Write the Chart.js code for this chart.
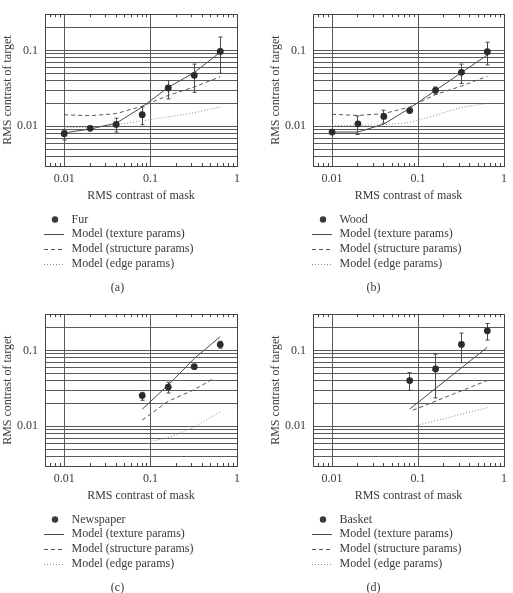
<!DOCTYPE html>
<html>
<head>
<meta charset="utf-8">
<script src="https://cdn.jsdelivr.net/npm/chart.js@4.4.1/dist/chart.umd.min.js"></script>
<style>
  html, body { margin: 0; padding: 0; background: #fff; overflow: hidden; }
  canvas.panel { position: absolute; }
</style>
</head>
<body>
<canvas id="chartA" class="panel" width="256" height="300" style="left:0;top:0"></canvas>
<canvas id="chartB" class="panel" width="257" height="300" style="left:256px;top:0"></canvas>
<canvas id="chartC" class="panel" width="256" height="293" style="left:0;top:300px"></canvas>
<canvas id="chartD" class="panel" width="257" height="293" style="left:256px;top:300px"></canvas>
<script>
// mask contrast levels used in the experiments
const maskFull = [0.01, 0.02, 0.04, 0.08, 0.16, 0.32, 0.64];
const maskHigh = [0.08, 0.16, 0.32, 0.64];

// (a) Fur
const furTarget = [0.0080, 0.0094, 0.0106, 0.0142, 0.032, 0.047, 0.097];
const furErrLo = [0.0066, 0.0090, 0.0084, 0.0105, 0.023, 0.028, 0.050];
const furErrHi = [0.0088, 0.0098, 0.0128, 0.0180, 0.040, 0.066, 0.150];
const furTexture = [0.0082, 0.0092, 0.0110, 0.0180, 0.0326, 0.051, 0.095];
const furStructure = [0.0142, 0.0138, 0.0147, 0.0184, 0.0255, 0.033, 0.045];
const furEdge = [0.0097, 0.0097, 0.0105, 0.0118, 0.0133, 0.0151, 0.018];

// (b) Wood
const woodTarget = [0.0084, 0.0108, 0.0135, 0.0161, 0.0298, 0.0514, 0.096];
const woodErrLo = [0.0078, 0.0078, 0.0110, 0.0152, 0.0265, 0.0367, 0.0645];
const woodErrHi = [0.0090, 0.0137, 0.0163, 0.0170, 0.0330, 0.0660, 0.128];
const woodTexture = [0.0084, 0.0084, 0.0107, 0.0173, 0.0298, 0.051, 0.087];
const woodStructure = [0.0144, 0.0139, 0.0147, 0.0180, 0.0262, 0.0339, 0.0456];
const woodEdge = [0.0102, 0.0103, 0.0105, 0.0112, 0.0140, 0.0178, 0.0200];

// (c) Newspaper
const newsTarget = [0.0254, 0.0329, 0.061, 0.1195];
const newsErrLo = [0.0220, 0.0275, 0.058, 0.107];
const newsErrHi = [0.0280, 0.0380, 0.064, 0.132];
const newsTexture = [0.0168, 0.035, 0.078, 0.152];
const newsStructureMask = [0.08, 0.16, 0.32, 0.52];
const newsStructure = [0.0121, 0.0214, 0.0304, 0.0417];
const newsEdgeMask = [0.1, 0.16, 0.32, 0.64];
const newsEdge = [0.0063, 0.0071, 0.0097, 0.0156];

// (d) Basket
const basketTarget = [0.040, 0.057, 0.120, 0.181];
const basketErrLo = [0.0298, 0.0237, 0.069, 0.137];
const basketErrHi = [0.051, 0.089, 0.169, 0.226];
const basketTextureMask = [0.08, 0.64];
const basketTexture = [0.0169, 0.110];
const basketStructureMask = [0.087, 0.64];
const basketStructure = [0.0163, 0.0402];
const basketEdgeMask = [0.089, 0.64];
const basketEdge = [0.0100, 0.0176];

// axes
const xTickValues = [0.01, 0.1, 1];
const xTickLabels = ['0.01', '0.1', '1'];
const xMinorTicks = [0.007, 0.008, 0.009, 0.02, 0.03, 0.04, 0.05, 0.06, 0.07, 0.08, 0.09,
                     0.2, 0.3, 0.4, 0.5, 0.6, 0.7, 0.8, 0.9];
const yGridValues = [0.003, 0.004, 0.005, 0.006, 0.007, 0.008, 0.009,
                     0.01, 0.02, 0.03, 0.04, 0.05, 0.06, 0.07, 0.08, 0.09, 0.1, 0.2, 0.3];
const yTickValues = [0.01, 0.1];
const yTickLabels = ['0.01', '0.1'];

const seriesLabels = ['Model (texture params)', 'Model (structure params)', 'Model (edge params)'];

const FONT = '"Liberation Serif", "Times New Roman", serif';
const TEXT = '#3a3a3a';
const GRID = '#5a5a5a';

function pairs(xs, ys) { return xs.map((x, i) => ({ x: x, y: ys[i] })); }

function labelFor(v, values, labels) {
    const k = values.findIndex(t => Math.abs(t - v) < t * 1e-6);
    return k < 0 ? '' : labels[k];
}

function alignPx(p) { return Math.round(p - 0.5) + 0.5; }

const errorBars = {
    id: 'errorBars',
    beforeDatasetsDraw(chart) {
        const ctx = chart.ctx, ys = chart.scales.y;
        chart.data.datasets.forEach((ds, i) => {
            if (!ds.errLo) return;
            const meta = chart.getDatasetMeta(i);
            ctx.save();
            ctx.strokeStyle = '#4a4a4a';
            ctx.lineWidth = 1;
            meta.data.forEach((pt, j) => {
                const x = alignPx(pt.x);
                const lo = ys.getPixelForValue(ds.errLo[j]);
                const hi = ys.getPixelForValue(ds.errHi[j]);
                ctx.beginPath();
                ctx.moveTo(x, lo); ctx.lineTo(x, hi);
                ctx.moveTo(x - 2, lo); ctx.lineTo(x + 2, lo);
                ctx.moveTo(x - 2, hi); ctx.lineTo(x + 2, hi);
                ctx.stroke();
            });
            ctx.restore();
        });
    }
};

const frameTicks = {
    id: 'frameTicks',
    afterDraw(chart) {
        const { ctx, chartArea: a, scales: { x } } = chart;
        ctx.save();
        ctx.strokeStyle = '#444';
        ctx.lineWidth = 1;
        ctx.strokeRect(alignPx(a.left), alignPx(a.top), Math.round(a.right - a.left), Math.round(a.bottom - a.top));
        ctx.beginPath();
        xMinorTicks.forEach(v => {
            const px = alignPx(x.getPixelForValue(v));
            ctx.moveTo(px, a.top); ctx.lineTo(px, a.top + 3);
            ctx.moveTo(px, a.bottom); ctx.lineTo(px, a.bottom - 3);
        });
        ctx.stroke();
        ctx.restore();
    }
};

const panelLegend = {
    id: 'panelLegend',
    afterDraw(chart, args, opts) {
        const { ctx, chartArea: a } = chart;
        ctx.save();
        ctx.font = '12px ' + FONT;
        ctx.fillStyle = TEXT;
        ctx.textBaseline = 'middle';
        chart.data.datasets.forEach((ds, i) => {
            const y = opts.top + i * opts.gap;
            const x0 = a.left - 1;
            if (ds.showLine === false) {
                ctx.beginPath();
                ctx.arc(x0 + 11, y, 3.2, 0, Math.PI * 2);
                ctx.fill();
            } else {
                ctx.save();
                ctx.strokeStyle = ds.borderColor;
                ctx.lineWidth = 1;
                ctx.setLineDash(ds.borderDash || []);
                ctx.beginPath();
                ctx.moveTo(x0, Math.round(y) + 0.5);
                ctx.lineTo(x0 + 20, Math.round(y) + 0.5);
                ctx.stroke();
                ctx.restore();
            }
            ctx.textAlign = 'left';
            ctx.fillText(ds.label, a.left + 26.5, y);
        });
        ctx.textAlign = 'center';
        ctx.fillText(opts.caption, opts.captionX, opts.captionY);
        ctx.restore();
    }
};

function makePanel(id, p) {
    const canvas = document.getElementById(id);
    const datasets = [
        {
            label: p.name, data: pairs(p.mask, p.target), errLo: p.errLo, errHi: p.errHi,
            showLine: false, pointRadius: 3.4, pointBackgroundColor: '#2b2b2b', pointBorderWidth: 0,
            borderColor: '#2b2b2b'
        },
        {
            label: seriesLabels[0], data: p.texture, borderColor: '#4a4a4a', borderWidth: 1,
            pointRadius: 0, tension: 0
        },
        {
            label: seriesLabels[1], data: p.structure, borderColor: '#555', borderWidth: 1,
            borderDash: [4, 3], pointRadius: 0, tension: 0
        },
        {
            label: seriesLabels[2], data: p.edge, borderColor: '#8a8a8a', borderWidth: 1,
            borderDash: [1, 2], pointRadius: 0, tension: 0
        }
    ];
    return new Chart(canvas.getContext('2d'), {
        type: 'line',
        data: { datasets: datasets },
        options: {
            responsive: false,
            animation: false,
            layout: { padding: { left: p.padLeft, right: p.padRight, top: 12, bottom: canvas.height - 166 - 40 } },
            plugins: {
                legend: { display: false },
                tooltip: { enabled: false },
                panelLegend: { top: 219.5, gap: 14.8, caption: p.caption, captionX: 117.5, captionY: 287.5 }
            },
            scales: {
                x: {
                    type: 'logarithmic', min: 0.006, max: 1,
                    afterBuildTicks: s => { s.ticks = xTickValues.map(v => ({ value: v })); },
                    afterFit: s => { s.height = 40; },
                    ticks: {
                        autoSkip: false, maxRotation: 0, padding: 6, color: TEXT,
                        font: { family: FONT, size: 12 },
                        callback: v => labelFor(v, xTickValues, xTickLabels)
                    },
                    grid: { color: GRID, lineWidth: 1, drawTicks: false },
                    border: { color: '#444' },
                    title: {
                        display: true, text: 'RMS contrast of mask', color: TEXT,
                        font: { family: FONT, size: 12 }, padding: { top: 0, bottom: 3 }
                    }
                },
                y: {
                    type: 'logarithmic', min: 0.003, max: 0.3,
                    afterBuildTicks: s => { s.ticks = yGridValues.map(v => ({ value: v })); },
                    afterFit: s => { s.width = 45; },
                    ticks: {
                        autoSkip: false, padding: 7, color: TEXT,
                        font: { family: FONT, size: 12 },
                        callback: v => labelFor(v, yTickValues, yTickLabels)
                    },
                    grid: { color: GRID, lineWidth: 1, drawTicks: false },
                    border: { color: '#444' },
                    title: {
                        display: true, text: 'RMS contrast of target', color: TEXT,
                        font: { family: FONT, size: 12 }, padding: { top: 1, bottom: 0 }
                    }
                }
            }
        },
        plugins: [errorBars, frameTicks, panelLegend]
    });
}

makePanel('chartA', {
    name: 'Fur', mask: maskFull, target: furTarget, errLo: furErrLo, errHi: furErrHi,
    texture: pairs(maskFull, furTexture), structure: pairs(maskFull, furStructure), edge: pairs(maskFull, furEdge),
    caption: '(a)', padLeft: 0, padRight: 19
});
makePanel('chartB', {
    name: 'Wood', mask: maskFull, target: woodTarget, errLo: woodErrLo, errHi: woodErrHi,
    texture: pairs(maskFull, woodTexture), structure: pairs(maskFull, woodStructure), edge: pairs(maskFull, woodEdge),
    caption: '(b)', padLeft: 12, padRight: 9
});
makePanel('chartC', {
    name: 'Newspaper', mask: maskHigh, target: newsTarget, errLo: newsErrLo, errHi: newsErrHi,
    texture: pairs(maskHigh, newsTexture), structure: pairs(newsStructureMask, newsStructure), edge: pairs(newsEdgeMask, newsEdge),
    caption: '(c)', padLeft: 0, padRight: 19
});
makePanel('chartD', {
    name: 'Basket', mask: maskHigh, target: basketTarget, errLo: basketErrLo, errHi: basketErrHi,
    texture: pairs(basketTextureMask, basketTexture), structure: pairs(basketStructureMask, basketStructure), edge: pairs(basketEdgeMask, basketEdge),
    caption: '(d)', padLeft: 12, padRight: 9
});
</script>
</body>
</html>
